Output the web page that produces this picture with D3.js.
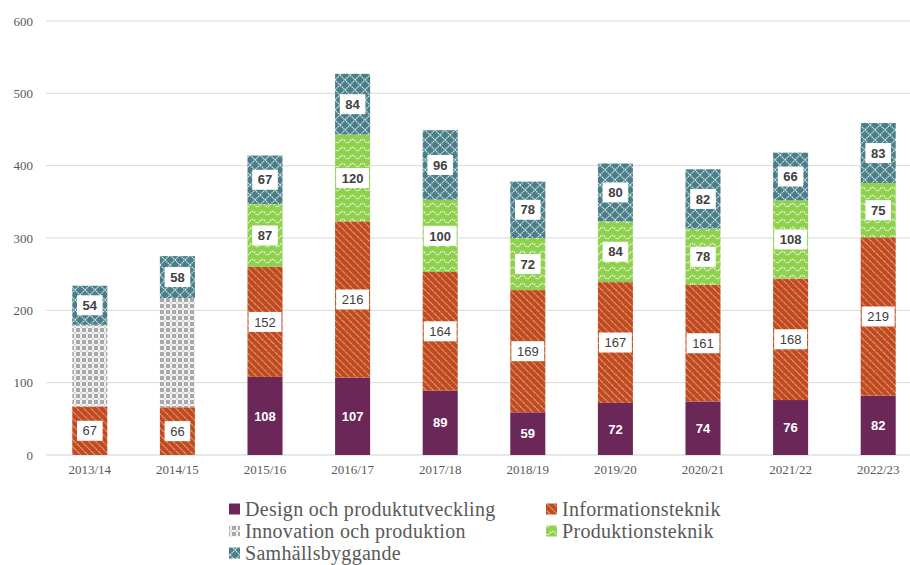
<!DOCTYPE html>
<html><head><meta charset="utf-8">
<script src="https://cdn.jsdelivr.net/npm/d3@7"></script>
<style>body{margin:0;background:#fff}svg{display:block}</style>
</head><body><svg id="c" width="910" height="565"></svg>
<script>
const categories = ["2013/14","2014/15","2015/16","2016/17","2017/18","2018/19","2019/20","2020/21","2021/22","2022/23"];
const seriesNames = ["Design och produktutveckling","Informationsteknik","Innovation och produktion","Produktionsteknik","Samhällsbyggande"];
const design = [0,0,108,107,89,59,72,74,76,82];
const infotek = [67,66,152,216,164,169,167,161,168,219];
const innovation = [113,151,0,0,0,0,0,0,0,0];
const produktion = [0,0,87,120,100,72,84,78,108,75];
const samhall = [54,58,67,84,96,78,80,82,66,83];
const yTicks = [0,100,200,300,400,500,600];

const seriesValues = [design, infotek, innovation, produktion, samhall];
const showLabel = [true,true,false,true,true];

const svg = d3.select("#c");
const defs = svg.append("defs");
function pat(id, w, h, bg, transform){
  const p = defs.append("pattern").attr("id",id).attr("patternUnits","userSpaceOnUse").attr("width",w).attr("height",h);
  if (transform) p.attr("patternTransform",transform);
  p.append("rect").attr("width",w).attr("height",h).attr("fill",bg);
  return p;
}
pat("p0",4,4,"#6b2758");
const p1 = pat("p1",5,5,"#c14a1e","rotate(-45)");
p1.append("line").attr("x1",0).attr("y1",0).attr("x2",0).attr("y2",5).attr("stroke","#f3d6c8").attr("stroke-width",1.3).attr("stroke-dasharray","2,0.8");
const p2 = pat("p2",6,6,"#a9a9a9");
p2.append("rect").attr("x",2).attr("y",0).attr("width",2).attr("height",6).attr("fill","#f2f2f2");
p2.append("rect").attr("x",0).attr("y",2).attr("width",6).attr("height",2).attr("fill","#f2f2f2");
p2.append("rect").attr("x",2.5).attr("y",2.5).attr("width",1).attr("height",1).attr("fill","#8a8a8a");
const p3 = pat("p3",10,8,"#8fd14f");
p3.append("path").attr("d","M0 5 Q2.5 1.5 5 5 T10 5").attr("fill","none").attr("stroke","#f4fbe9").attr("stroke-width",1.2).attr("stroke-dasharray","1.5,0.8");
const p4 = pat("p4",10,10,"#4a7f89");
p4.append("path").attr("d","M0 5 L5 0 L10 5 L5 10 Z").attr("fill","none").attr("stroke","#dfeaec").attr("stroke-width",1.1).attr("stroke-dasharray","1.5,0.7");
const fills = ["url(#p0)","url(#p1)","url(#p2)","url(#p3)","url(#p4)"];

const x = d3.scaleBand().domain(categories).range([46,922]).paddingInner(0.6).paddingOuter(0.3);
const y = d3.scaleLinear().domain([0,600]).range([455,21]);

svg.append("g").selectAll("line").data(yTicks).join("line")
  .attr("x1",46).attr("x2",922).attr("y1",d=>y(d)).attr("y2",d=>y(d))
  .attr("stroke",d=>d===0?"#d0d0d0":"#d9d9d9").attr("stroke-width",1);

svg.append("g").selectAll("text").data(yTicks).join("text")
  .attr("x",33).attr("y",d=>y(d)).attr("dy","0.35em").attr("text-anchor","end")
  .attr("font-family","Liberation Serif, serif").attr("font-size",13).attr("fill","#595959").text(d=>d);

svg.append("g").selectAll("text").data(categories).join("text")
  .attr("x",d=>x(d)+x.bandwidth()/2).attr("y",474).attr("text-anchor","middle")
  .attr("font-family","Liberation Serif, serif").attr("font-size",13).attr("fill","#595959").text(d=>d);

const rows = categories.map((c,i)=>{const o={cat:c}; seriesNames.forEach((s,j)=>o[s]=seriesValues[j][i]); return o;});
const stack = d3.stack().keys(seriesNames)(rows);

const gBars = svg.append("g");
stack.forEach((layer,si)=>{
  gBars.append("g").selectAll("rect").data(layer.filter(d=>d[1]-d[0]>0)).join("rect")
    .attr("x",d=>x(d.data.cat)).attr("width",x.bandwidth())
    .attr("y",d=>y(d[1])).attr("height",d=>y(d[0])-y(d[1]))
    .attr("fill",fills[si]);
});

const gLab = svg.append("g").attr("font-family","Liberation Sans, Arial, sans-serif").attr("font-size",13);
stack.forEach((layer,si)=>{
  if(!showLabel[si]) return;
  layer.filter(d=>d[1]-d[0]>0).forEach(d=>{
    const v = d[1]-d[0];
    const cx = x(d.data.cat)+x.bandwidth()/2;
    const cy = y((d[0]+d[1])/2);
    const bold = si!==1;
    const txt = String(v);
    if(si!==0){
      const w = txt.length*7.3+11;
      gLab.append("rect").attr("x",cx-w/2).attr("y",cy-10).attr("width",w).attr("height",20).attr("fill","#fff");
    }
    gLab.append("text").attr("x",cx).attr("y",cy).attr("dy","0.36em").attr("text-anchor","middle")
      .attr("font-weight",bold?"bold":"normal")
      .attr("fill",si===0?"#ffffff":"#404040").text(txt);
  });
});

const legendItems = [
  {i:0,x:229,y:509},{i:1,x:546,y:509},
  {i:2,x:229,y:531},{i:3,x:546,y:531},
  {i:4,x:229,y:553}
];
const gLeg = svg.append("g");
legendItems.forEach(it=>{
  gLeg.append("rect").attr("x",it.x).attr("y",it.y-5.5).attr("width",11).attr("height",11).attr("fill",fills[it.i]);
  gLeg.append("text").attr("x",it.x+16).attr("y",it.y).attr("dy","0.35em")
    .attr("font-family","Liberation Serif, serif").attr("font-size",20).attr("letter-spacing",0.3).attr("fill","#595959").text(seriesNames[it.i]);
});
</script></body></html>
